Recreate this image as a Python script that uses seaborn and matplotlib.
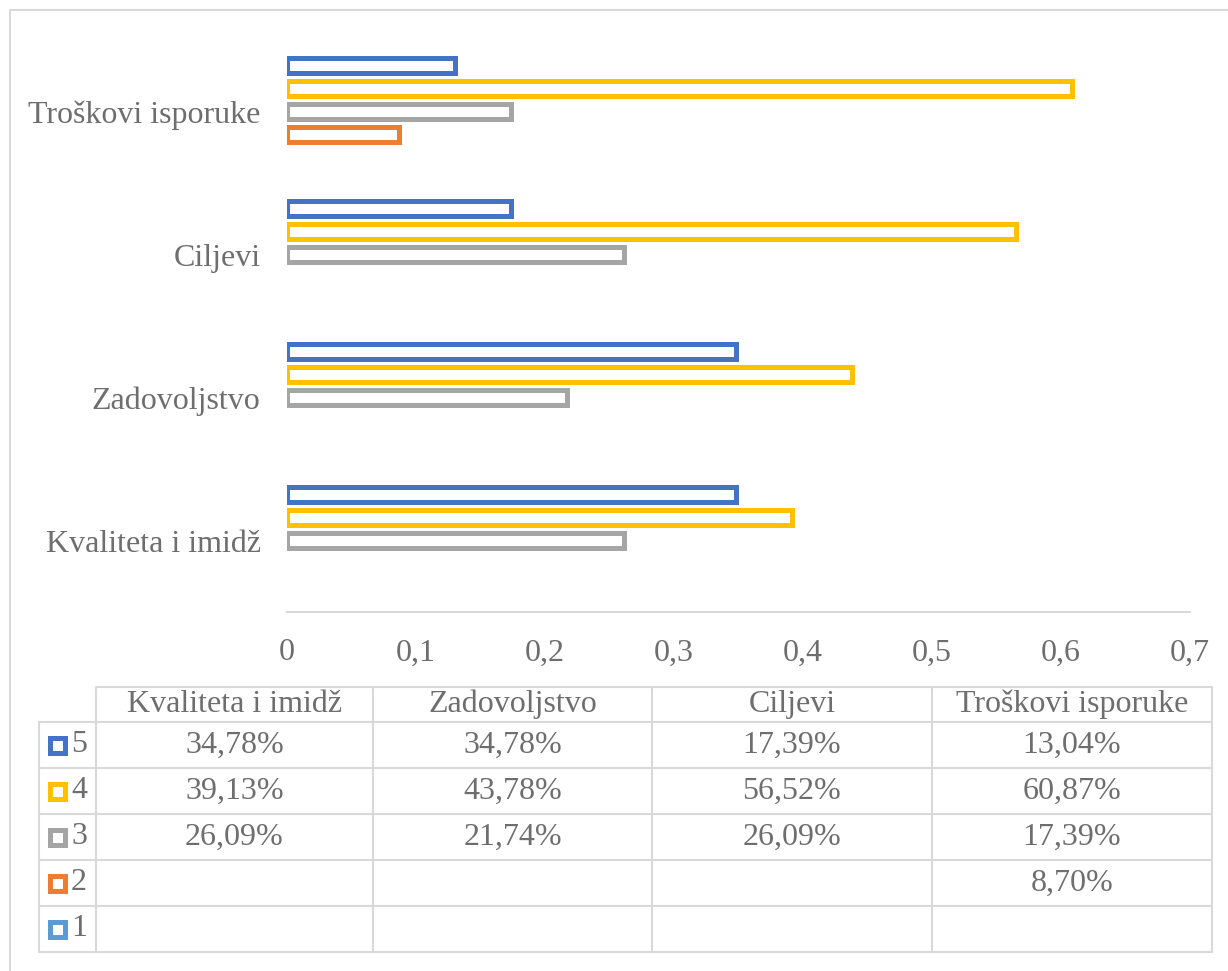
import numpy as np
import pandas as pd
import matplotlib
matplotlib.use("Agg")
import matplotlib.pyplot as plt
import seaborn as sns
from matplotlib.patches import Rectangle

categories = ['Kvaliteta i imidž', 'Zadovoljstvo', 'Ciljevi', 'Troškovi isporuke']
series_names = ['5', '4', '3', '2', '1']
s5 = [34.78, 34.78, 17.39, 13.04]
s4 = [39.13, 43.78, 56.52, 60.87]
s3 = [26.09, 21.74, 26.09, 17.39]
s2 = [np.nan, np.nan, np.nan, 8.70]
s1 = [np.nan, np.nan, np.nan, np.nan]
colors = {'5': '#4472C4', '4': '#FFC000', '3': '#A5A5A5', '2': '#ED7D31', '1': '#5B9BD5'}

values = {'5': s5, '4': s4, '3': s3, '2': s2, '1': s1}
rows = []
for name in series_names:
    for cat, v in zip(categories, values[name]):
        rows.append({'cat': cat, 'series': name, 'value': v / 100})
df = pd.DataFrame(rows)

sns.set_theme(style="white")
plt.rcParams['font.family'] = ['Liberation Serif', 'DejaVu Serif']
txt = '#6e6e6e'
grid = '#D9D9D9'

W, H = 1228, 971
fig = plt.figure(figsize=(W / 100, H / 100), dpi=100)

# background overlay in pixel coords for border + data table
bg = fig.add_axes([0, 0, 1, 1])
bg.set_xlim(0, W)
bg.set_ylim(H, 0)
bg.axis('off')
bg.plot([10, 10, W], [H, 10, 10], color=grid, lw=1.5)

ax = fig.add_axes([287 / W, (H - 612) / H, (1190 - 287) / W, (612 - 40) / H])
sns.barplot(data=df.dropna(), y='cat', x='value', hue='series',
            order=categories[::-1], hue_order=series_names, palette=colors,
            fill=False, linewidth=3.6, width=0.80, gap=0.35,
            errorbar=None, legend=False, ax=ax)
ax.set_xlim(0, 0.7)
ax.set_xticks(np.arange(0, 0.71, 0.1))
ax.set_xticklabels(['0' if t == 0 else f'{t:.1f}'.replace('.', ',') for t in np.arange(0, 0.71, 0.1)])
ax.tick_params(axis='x', length=0, pad=19, labelsize=23, labelcolor=txt)
ax.tick_params(axis='y', length=0, pad=19, labelsize=23, labelcolor=txt)
ax.set_xlabel('')
ax.set_ylabel('')
for s in ['top', 'right', 'left']:
    ax.spines[s].set_visible(False)
ax.spines['bottom'].set_color(grid)
ax.spines['bottom'].set_linewidth(1.5)
ax.patch.set_alpha(0)

# data table
col_x = [96, 373, 652, 932, 1212]
row_y = [687, 722, 768, 814, 860, 906, 952]
left = 39
lc = grid
lw = 1.5
# header row
bg.plot([col_x[0], col_x[-1]], [row_y[0], row_y[0]], color=lc, lw=lw)
for y in row_y[1:]:
    bg.plot([left, col_x[-1]], [y, y], color=lc, lw=lw)
bg.plot([left, left], [row_y[1], row_y[-1]], color=lc, lw=lw)
for x in col_x:
    bg.plot([x, x], [row_y[0], row_y[-1]], color=lc, lw=lw)
for j, cat in enumerate(categories):
    cx = (col_x[j] + col_x[j + 1]) / 2
    bg.text(cx, (row_y[0] + row_y[1]) / 2, cat, ha='center', va='center',
            fontsize=23, color=txt)
for i, name in enumerate(series_names):
    cy = (row_y[i + 1] + row_y[i + 2]) / 2
    bg.add_patch(Rectangle((50, cy - 7), 15, 15, fill=False,
                           edgecolor=colors[name], lw=3.6))
    bg.text(71, cy, name, ha='left', va='center', fontsize=23, color=txt)
    for j, v in enumerate(values[name]):
        if not np.isnan(v):
            cx = (col_x[j] + col_x[j + 1]) / 2
            bg.text(cx, cy, f'{v:.2f}%'.replace('.', ','), ha='center',
                    va='center', fontsize=23, color=txt)

fig.savefig('out.png', dpi=100)
